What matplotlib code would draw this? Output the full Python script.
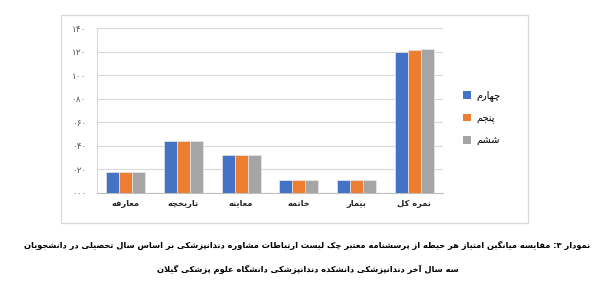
import matplotlib
matplotlib.use("Agg")
import matplotlib.pyplot as plt
from matplotlib.patches import Rectangle, Patch
import numpy as np

# ---------------- data ----------------
categories = ['معارفه', 'تاریخچه', 'معاینه', 'خاتمه', 'بیمار', 'نمره کل']
series_names = ['چهارم', 'پنجم', 'ششم']
fourth = [18, 44, 32, 11, 11, 119.5]
fifth = [18, 44, 32, 11, 11, 121.5]
sixth = [18, 44, 32, 11, 11, 122.5]
yticks = [0, 20, 40, 60, 80, 100, 120, 140]
caption1 = 'نمودار ۳: مقایسه میانگین امتیاز هر حیطه از پرسشنامه معتبر چک لیست ارتباطات مشاوره دندانپزشکی بر اساس سال تحصیلی در دانشجویان'
caption2 = 'سه سال آخر دندانپزشکی دانشکده دندانپزشکی دانشگاه علوم پزشکی گیلان'

colors = ['#4472C4', '#ED7D31', '#A5A5A5']

# ------------- simple Arabic/Persian shaping for display -------------
def _rng(a, n):
    return tuple(chr(a + k) for k in range(n))

FORMS = {
    'ا': ('\uFE8D', '\uFE8E', None, None),
    'آ': ('\uFE81', '\uFE82', None, None),
    'ب': _rng(0xFE8F, 4), 'ت': _rng(0xFE95, 4), 'ث': _rng(0xFE99, 4),
    'ج': _rng(0xFE9D, 4), 'ح': _rng(0xFEA1, 4), 'خ': _rng(0xFEA5, 4),
    'د': ('\uFEA9', '\uFEAA', None, None), 'ذ': ('\uFEAB', '\uFEAC', None, None),
    'ر': ('\uFEAD', '\uFEAE', None, None), 'ز': ('\uFEAF', '\uFEB0', None, None),
    'ژ': ('\uFB8A', '\uFB8B', None, None),
    'س': _rng(0xFEB1, 4), 'ش': _rng(0xFEB5, 4), 'ص': _rng(0xFEB9, 4),
    'ض': _rng(0xFEBD, 4), 'ط': _rng(0xFEC1, 4), 'ظ': _rng(0xFEC5, 4),
    'ع': _rng(0xFEC9, 4), 'غ': _rng(0xFECD, 4), 'ف': _rng(0xFED1, 4),
    'ق': _rng(0xFED5, 4), 'ل': _rng(0xFEDD, 4), 'م': _rng(0xFEE1, 4),
    'ن': _rng(0xFEE5, 4), 'ه': _rng(0xFEE9, 4),
    'و': ('\uFEED', '\uFEEE', None, None),
    'ی': _rng(0xFBFC, 4), 'ک': _rng(0xFB8E, 4), 'گ': _rng(0xFB92, 4),
    'پ': _rng(0xFB56, 4), 'چ': _rng(0xFB7A, 4),
}
LAMALEF = {'ا': ('\uFEFB', '\uFEFC'), 'آ': ('\uFEF5', '\uFEF6')}


def shape(s):
    ch = list(s)
    n = len(ch)
    out = []

    def dual(c):
        f = FORMS.get(c)
        return f is not None and f[2] is not None

    i = 0
    while i < n:
        c = ch[i]
        if c not in FORMS:
            out.append(c)
            i += 1
            continue
        jp = i > 0 and dual(ch[i - 1])
        if c == 'ل' and i + 1 < n and ch[i + 1] in LAMALEF:
            lig = LAMALEF[ch[i + 1]]
            out.append(lig[1] if jp else lig[0])
            i += 2
            continue
        jn = dual(c) and i + 1 < n and ch[i + 1] in FORMS
        f = FORMS[c]
        if jp and jn:
            g = f[3]
        elif jp:
            g = f[1]
        elif jn:
            g = f[2]
        else:
            g = f[0]
        out.append(g)
        i += 1
    return ''.join(out)[::-1]


FA_DIGITS = str.maketrans('0123456789', '۰۱۲۳۴۵۶۷۸۹')


def fa_num(v):
    return ('%03d' % v).translate(FA_DIGITS)


plt.rcParams['font.family'] = ['DejaVu Sans']

fig = plt.figure(figsize=(6.15, 3.0), dpi=100)
fig.patch.set_facecolor('white')

# chart frame
fig.patches.append(Rectangle((61 / 615, 1 - 223 / 300), (528 - 61) / 615, (223 - 15) / 300,
                             transform=fig.transFigure, fill=False,
                             edgecolor='#D9D9D9', linewidth=0.9))

ax = fig.add_axes([97 / 615, 1 - 193 / 300, (443 - 97) / 615, (193 - 28) / 300])

x = np.arange(len(categories))
w = 0.225
for k, (vals, c) in enumerate(zip([fourth, fifth, sixth], colors)):
    ax.bar(x + (k - 1) * w, vals, width=w, color=c, edgecolor='#E8E8E8',
           linewidth=0.5, zorder=3)

ax.set_xlim(-0.5, len(categories) - 0.5)
ax.set_ylim(0, 140)
ax.set_yticks(yticks)
ax.set_yticklabels([fa_num(v) for v in yticks], fontsize=6.5, color='#595959')
ax.set_xticks(x)
ax.set_xticklabels([shape(c) for c in categories], fontsize=6, fontweight='bold',
                   color='#262626')
ax.tick_params(length=0, pad=8, axis='y')
ax.tick_params(length=0, pad=4, axis='x')
ax.grid(axis='y', color='#D9D9D9', linewidth=0.8, zorder=0)
for s in ['top', 'right']:
    ax.spines[s].set_visible(False)
ax.spines['left'].set_color('#D9D9D9')
ax.spines['bottom'].set_color('#BFBFBF')

handles = [Patch(facecolor=c, edgecolor='none') for c in colors]
fig.legend(handles, [shape(s) for s in series_names], loc='center left',
           bbox_to_anchor=(454 / 615, 1 - 118 / 300), frameon=False, fontsize=7,
           handlelength=0.8, handleheight=0.8, handletextpad=0.6, labelspacing=1.2)

t1 = fig.text(0.5, 1 - 245 / 300, shape(caption1), ha='center', va='center',
              fontsize=6.6, fontweight='bold')
t2 = fig.text(0.5, 1 - 269 / 300, shape(caption2), ha='center', va='center',
              fontsize=6.6, fontweight='bold')

# fit caption width to the reference (~565 px for the first line)
fig.canvas.draw()
r = fig.canvas.get_renderer()
wpx = t1.get_window_extent(r).width
fs = 6.6 * 565.0 / wpx
t1.set_fontsize(fs)
t2.set_fontsize(fs)

fig.savefig('out.png', dpi=100)
